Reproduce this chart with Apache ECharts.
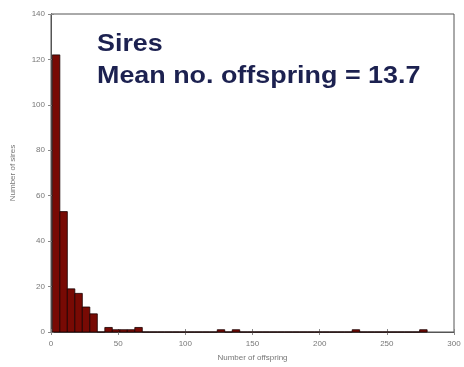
<!DOCTYPE html>
<html><head><meta charset="utf-8">
<script src="https://cdn.jsdelivr.net/npm/echarts@6/dist/echarts.min.js"></script>
<style>html,body{margin:0;padding:0;background:#fff}#c{width:464px;height:367px}</style>
</head><body><div id="c"></div>
<script>
const binStart = 1;
const binWidth = 5.58;
const counts = [122,53,19,17,11,8,0,2,1,1,1,2,0,0,0,0,0,0,0,0,0,0,1,0,1,0,0,0,0,0,0,0,0,0,0,0,0,0,0,0,1,0,0,0,0,0,0,0,0,1];
const xTicks = [0,50,100,150,200,250,300];
const yTicks = [0,20,40,60,80,100,120,140];
const titleLine1 = 'Sires';
const titleLine2 = 'Mean no. offspring = 13.7';
const xName = 'Number of offspring';
const yName = 'Number of sires';

const bins = counts.map((c,i)=>[binStart+i*binWidth, binStart+(i+1)*binWidth, c]);
const chart = echarts.init(document.getElementById('c'));
const lab = {color:'#777', fontSize:8, fontFamily:'Liberation Sans'};
const tick = {show:true,inside:true,length:3,lineStyle:{color:'#888'}};
chart.setOption({
  animation:false,
  grid:{left:51,right:10,top:14,bottom:34,show:true,borderColor:'#555',borderWidth:1,backgroundColor:'transparent'},
  xAxis:[{type:'value',min:0,max:300,interval:50,
    axisLine:{show:true,lineStyle:{color:'#555',width:1}},
    axisTick:tick,
    axisLabel:Object.assign({margin:8},lab),
    splitLine:{show:false},
    name:xName,nameLocation:'middle',nameGap:22,nameTextStyle:{color:'#777',fontSize:8,fontFamily:'Liberation Sans'}},
   {type:'value',min:0,max:300,interval:50,position:'top',
    axisLine:{show:true,lineStyle:{color:'#555',width:1}},
    axisTick:tick,
    axisLabel:{show:false},splitLine:{show:false}}],
  yAxis:[{type:'value',min:0,max:140,interval:20,
    axisLine:{show:true,lineStyle:{color:'#555',width:1}},
    axisTick:tick,
    axisLabel:Object.assign({margin:6},lab),
    splitLine:{show:false},
    name:yName,nameLocation:'middle',nameGap:34,nameTextStyle:{color:'#777',fontSize:8,fontFamily:'Liberation Sans'}},
   {type:'value',min:0,max:140,interval:20,position:'right',
    axisLine:{show:true,lineStyle:{color:'#555',width:1}},
    axisTick:tick,
    axisLabel:{show:false},splitLine:{show:false}}],
  series:[{type:'custom',xAxisIndex:0,yAxisIndex:0,
    data:bins,
    encode:{x:[0,1],y:2},
    renderItem:function(params,api){
      const p0 = api.coord([api.value(0),0]);
      const p1 = api.coord([api.value(1),api.value(2)]);
      return {type:'rect',shape:{x:p0[0],y:p1[1],width:p1[0]-p0[0],height:p0[1]-p1[1]},
        style:{fill:'#780a04',stroke:'#1a0000',lineWidth:0.8}};
    }}],
  graphic:[
    {type:'text',left:97,top:32,scaleX:1.12,style:{text:titleLine1,font:'bold 24px "Liberation Sans"',fill:'#1c2150'}},
    {type:'text',left:97,top:64,scaleX:1.12,style:{text:titleLine2,font:'bold 24px "Liberation Sans"',fill:'#1c2150'}}
  ]
});
</script></body></html>
